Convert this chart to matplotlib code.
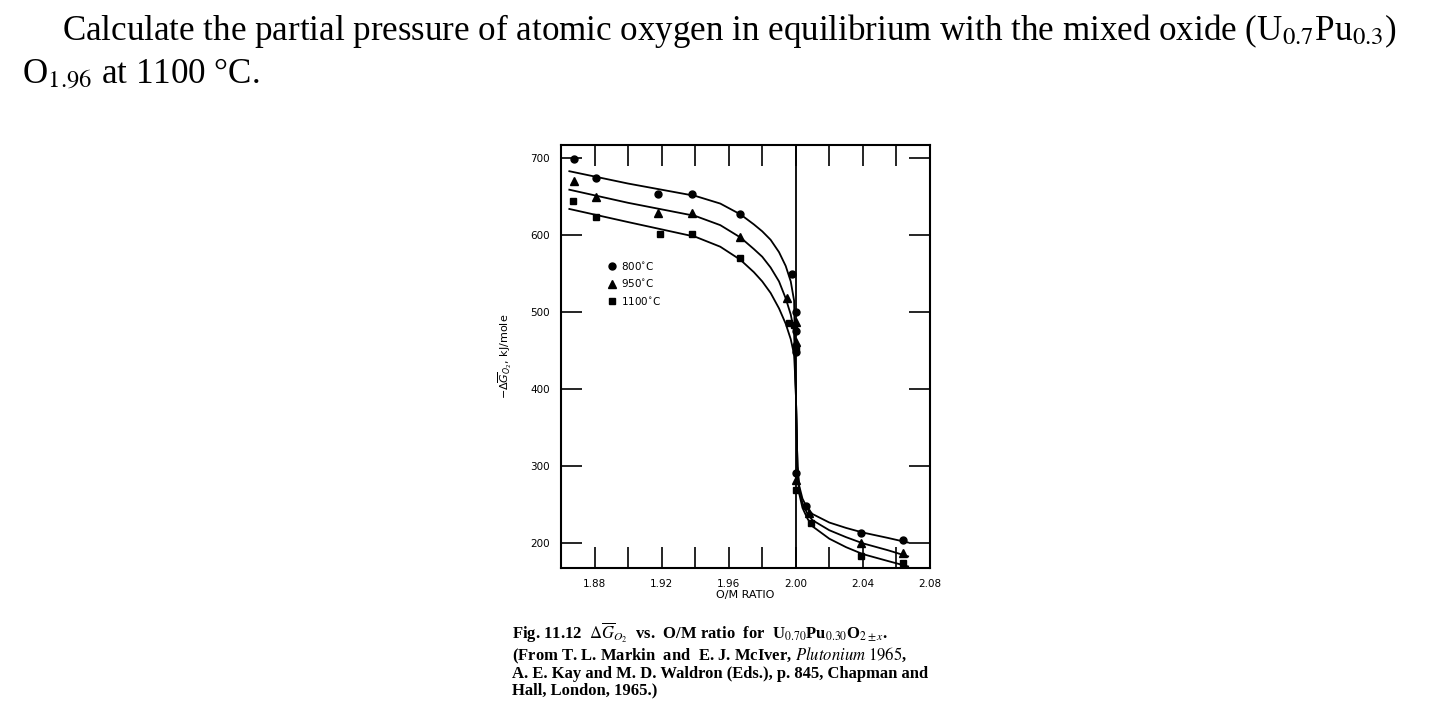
import numpy as np
import matplotlib.pyplot as plt

# measured points (O/M ratio, -dG kJ/mole)
x800 = [1.868, 1.881, 1.918, 1.938, 1.967, 1.9975, 2.0, 2.0, 2.0, 2.0, 2.006, 2.039, 2.064]
y800 = [699, 674, 653, 653, 627, 549, 500, 475, 448, 291, 249, 214, 204]
x950 = [1.868, 1.881, 1.918, 1.938, 1.967, 1.995, 2.0, 2.0, 2.0, 2.008, 2.039, 2.064]
y950 = [670, 649, 629, 629, 597, 518, 487, 461, 282, 239, 200, 187]
x1100 = [1.867, 1.881, 1.919, 1.938, 1.967, 1.996, 1.999, 2.0, 2.0, 2.009, 2.039, 2.064]
y1100 = [644, 623, 601, 601, 570, 486, 483, 455, 269, 227, 184, 174]

# hand-drawn fit curves
cx = [1.865, 1.90, 1.94, 1.955, 1.967, 1.975, 1.98, 1.985, 1.99, 1.994, 1.997, 1.999, 2.0,
      2.001, 2.002, 2.004, 2.007, 2.01, 2.02, 2.03, 2.04, 2.055, 2.067]
cy800 = [683, 667, 651, 641, 627, 614, 605, 594, 578, 560, 540, 515, 400,
         300, 275, 258, 245, 238, 227, 220, 214, 207, 201]
cy950 = [659, 642, 625, 613, 597, 582, 572, 558, 540, 518, 497, 475, 400,
         300, 270, 252, 238, 230, 217, 208, 200, 191, 183]
cy1100 = [634, 617, 598, 585, 568, 552, 540, 525, 505, 485, 465, 445, 400,
          300, 265, 246, 232, 222, 206, 195, 186, 177, 170]

plt.rcParams['font.family'] = ['DejaVu Sans']
fig = plt.figure(figsize=(14.51, 7.28), dpi=100)

serif = dict(family='Liberation Serif', math_fontfamily='stix')
fig.text(0.043, 0.945, "Calculate the partial pressure of atomic oxygen in equilibrium with the mixed oxide (U$_{0.7}$Pu$_{0.3}$)",
         fontsize=25.2, va='baseline', **serif)
fig.text(0.015, 0.885, "O$_{1.96}$ at 1100 \u00b0C.", fontsize=25.2, va='baseline', **serif)

ax = fig.add_axes([0.3866, 0.2198, 0.2543, 0.581])
for c in (cy800, cy950, cy1100):
    ax.plot(cx, c, color='black', lw=1.3)
ax.plot(x800, y800, 'o', color='black', ms=5, label='800$^{\\circ}$C')
ax.plot(x950, y950, '^', color='black', ms=5.5, label='950$^{\\circ}$C')
ax.plot(x1100, y1100, 's', color='black', ms=4.5, label='1100$^{\\circ}$C')
ax.axvline(2.0, color='black', lw=1.3)

ax.set_xlim(1.86, 2.08)
ax.set_ylim(168, 717)
ax.set_xticks(np.arange(1.88, 2.081, 0.02))
ax.set_xticklabels(['1.88', '', '1.92', '', '1.96', '', '2.00', '', '2.04', '', '2.08'])
ax.set_yticks([200, 300, 400, 500, 600, 700])
ax.tick_params(direction='in', length=15, width=1.2, top=True, right=True, labelsize=7.5, pad=8)
for s in ax.spines.values():
    s.set_linewidth(1.5)
ax.set_xlabel('O/M RATIO', fontsize=8, labelpad=1)
ax.set_ylabel(r'$-\Delta\overline{G}_{O_2}$, kJ/mole', fontsize=8, labelpad=12)
ax.legend(loc='upper left', bbox_to_anchor=(0.1, 0.75), frameon=False, fontsize=7.5,
          handletextpad=0.3, handlelength=1, labelspacing=0.5)

cap = ("Fig. 11.12  $\\Delta\\overline{G}_{O_2}$  vs.  O/M ratio  for  U$_{0.70}$Pu$_{0.30}$O$_{2\\pm x}$.\n"
       "(From T. L. Markin  and  E. J. McIver, $\\mathbf{\\it{Plutonium\\ 1965}}$,\n"
       "A. E. Kay and M. D. Waldron (Eds.), p. 845, Chapman and\n"
       "Hall, London, 1965.)")
fig.text(0.353, 0.04, cap, fontsize=12, weight='bold', va='bottom', linespacing=1.05, **serif)

fig.savefig('out.png', dpi=100)
